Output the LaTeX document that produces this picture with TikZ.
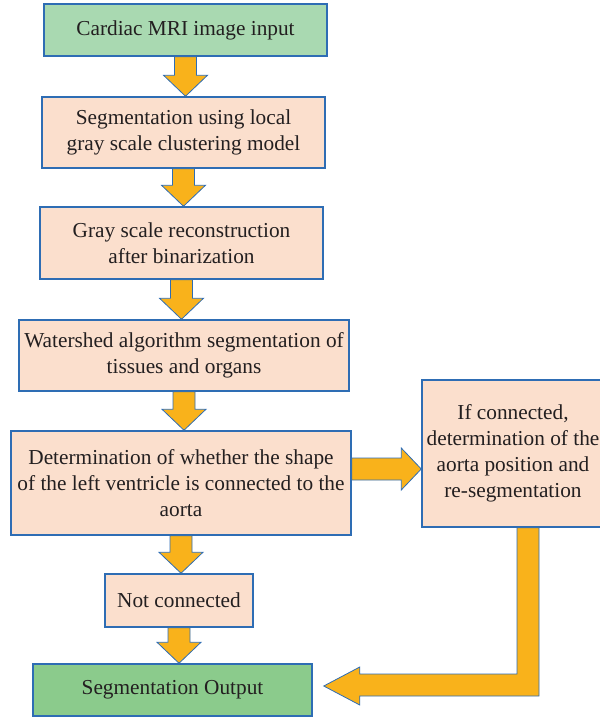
\documentclass[tikz,border=0pt]{standalone}
\usepackage{fontspec}
\setmainfont{Liberation Serif}
\usetikzlibrary{calc}
\definecolor{bordblue}{HTML}{2E6DB4}
\definecolor{greenA}{HTML}{A9D9B1}
\definecolor{greenB}{HTML}{8BCB8C}
\definecolor{peach}{HTML}{FBDFCD}
\definecolor{arrowfill}{HTML}{F9B21B}
\definecolor{txt}{HTML}{231F20}
\newcommand{\dnarr}[2]{%
  \draw[barrow] let \p1=(#1.south), \p2=(#2.north) in
    (\x1-11pt,\y1) -- (\x1-11pt,\y2+21pt) -- (\x1-22pt,\y2+21pt) -- (\x1,\y2)
    -- (\x1+22pt,\y2+21pt) -- (\x1+11pt,\y2+21pt) -- (\x1+11pt,\y1) -- cycle;}
\begin{document}
\begin{tikzpicture}[x=1pt,y=-1pt,
  box/.style={draw=bordblue, line width=1.5pt, align=center, inner sep=0pt,
    font=\fontsize{21.3}{26}\selectfont, text=txt, fill=peach},
  barrow/.style={draw=bordblue, line width=0.8pt, fill=arrowfill, line join=miter}]
\useasboundingbox (0,0) rectangle (600,718);
\clip (0,0) rectangle (600,718);
\node[box, fill=greenA, minimum width=283, minimum height=52] (b1) at (185.5,30) {Cardiac MRI image input};
\node[box, minimum width=283, minimum height=71] (b2) at (183.5,132.5) {Segmentation using local\\gray scale clustering model};
\node[box, minimum width=283, minimum height=72] (b3) at (181.5,243) {Gray scale reconstruction\\after binarization};
\node[box, minimum width=330, minimum height=71] (b4) at (184,355.5) {Watershed algorithm segmentation of\\tissues and organs};
\node[box, minimum width=340, minimum height=104] (b5) at (181,483) {Determination of whether the shape\\of the left ventricle is connected to the\\aorta};
\node[box, minimum width=148, minimum height=53] (b6) at (179,600.5) {Not connected};
\node[box, fill=greenB, minimum width=279, minimum height=52] (b7) at (172.5,690) {Segmentation Output};
\node[box, minimum width=182, minimum height=147] (br) at (513,453.5) {If connected,\\determination of the\\aorta position and\\re-segmentation};
\dnarr{b1}{b2}
\dnarr{b2}{b3}
\dnarr{b3}{b4}
\dnarr{b4}{b5}
\dnarr{b5}{b6}
\dnarr{b6}{b7}
\draw[barrow] let \p1=(b5.east), \p2=(br.west) in
  (\x1,-458pt) -- (\x2-20pt,-458pt) -- (\x2-20pt,-448pt) -- (\x2,-469pt)
  -- (\x2-20pt,-490pt) -- (\x2-20pt,-480pt) -- (\x1,-480pt) -- cycle;
\draw[barrow] let \p1=(br.south), \p2=(b7.east) in
  (517pt,\y1) -- (517pt,-674pt) -- (\x2+47pt,-674pt) -- (\x2+47pt,-667pt)
  -- (\x2+11pt,-686pt) -- (\x2+47pt,-705pt) -- (\x2+47pt,-696pt)
  -- (539pt,-696pt) -- (539pt,\y1) -- cycle;
\end{tikzpicture}
\end{document}
